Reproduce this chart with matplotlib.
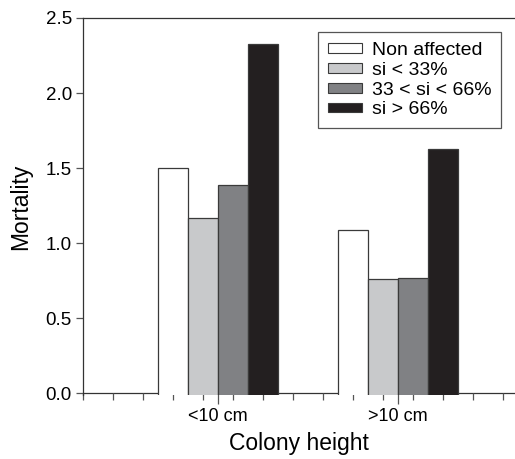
import matplotlib
matplotlib.use("Agg")
import matplotlib.pyplot as plt
import numpy as np

plt.rcParams['font.family'] = ['Liberation Sans', 'DejaVu Sans']

groups = ["<10 cm", ">10 cm"]
series = ["Non affected", "si < 33%", "33 < si < 66%", "si > 66%"]
values = {
    "Non affected": [1.50, 1.09],
    "si < 33%": [1.17, 0.76],
    "33 < si < 66%": [1.39, 0.77],
    "si > 66%": [2.33, 1.63],
}
colors = ["#ffffff", "#c8c9cb", "#808184", "#231f20"]
group_centers = [4.5, 10.5]

fig = plt.figure(figsize=(5.15, 4.59), dpi=100)
ax = fig.add_axes([83/515, 1-395/459, 1-83/515, (395-18)/459])

y0 = -0.012
ax.set_ylim(y0, 2.5)
ax.set_xlim(0, (515-83)/30)
ax.spines['bottom'].set_position(('data', 0))
ax.spines['right'].set_visible(False)
for s in ['left', 'top', 'bottom']:
    ax.spines[s].set_color('#333333')
    ax.spines[s].set_linewidth(0.9)
ax.spines['bottom'].set_zorder(1)

w = 1.0
for i, (name, c) in enumerate(zip(series, colors)):
    xs = np.array(group_centers) + (i - 1.5) * w
    vals = np.array(values[name])
    ax.bar(xs, vals - 2*y0, bottom=2*y0, width=w, color=c, edgecolor='#3a3a3a',
           linewidth=0.9, label=name, zorder=3)

ax.set_xticks(group_centers)
ax.set_xticklabels(groups, fontsize=13)
ax.set_xticks(np.arange(0, 15), minor=True)
ax.tick_params(axis='x', which='major', length=8, width=0.9, color='#555555', pad=3, direction='out')
ax.tick_params(axis='x', which='minor', length=5, width=0.9, color='#555555', direction='out')
ax.set_yticks([0, 0.5, 1.0, 1.5, 2.0, 2.5])
ax.set_yticklabels(["0.0", "0.5", "1.0", "1.5", "2.0", "2.5"], fontsize=13.5)
ax.tick_params(axis='y', length=5, width=0.9, color='#555555', pad=3, direction='out')

ax.set_xlabel("Colony height", fontsize=16.5, labelpad=5)
ax.set_ylabel("Mortality", fontsize=16.5, labelpad=10)

leg = ax.legend(loc='upper right', bbox_to_anchor=((501-83)/432, (395-32)/377),
                fontsize=14, handlelength=1.75, handleheight=0.4, labelspacing=0.15,
                handletextpad=0.5, borderpad=0.5, fancybox=False, framealpha=1,
                edgecolor='#555555', borderaxespad=0)
leg.get_frame().set_linewidth(0.9)
for h in leg.legend_handles:
    h.set_edgecolor('#3a3a3a')
    h.set_linewidth(0.8)

fig.savefig("out.png", dpi=100)
